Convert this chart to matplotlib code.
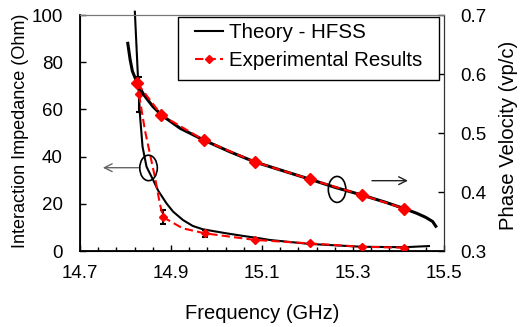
import matplotlib
matplotlib.use("Agg")
import matplotlib.pyplot as plt
from matplotlib.patches import Ellipse, Rectangle
from matplotlib.lines import Line2D

plt.rcParams['font.family'] = ['Liberation Sans', 'DejaVu Sans']

# teoria HFSS - impedancja (Ohm)
f_imp = [14.8205, 14.8278, 14.8315, 14.8374, 14.8462, 14.8607, 14.872, 14.89,
         14.9045, 14.9264, 14.948, 14.970, 15.0215, 15.058, 15.0945, 15.116,
         15.204, 15.318, 15.412, 15.467]
z_imp = [101.4, 71.7, 58.3, 44.2, 35.7, 30.1, 25.5, 20.2,
         16.7, 13.1, 10.6, 9.2, 7.5, 6.4, 5.4, 4.7,
         3.0, 1.8, 1.6, 2.1]

# teoria HFSS - predkosc fazowa (vp/c)
f_vp = [14.805, 14.81, 14.815, 14.826, 14.84, 14.86, 14.879, 14.92, 14.972,
        15.03, 15.084, 15.15, 15.206, 15.26, 15.319, 15.37, 15.412, 15.44,
        15.46, 15.475, 15.482]
vp = [0.652, 0.625, 0.605, 0.584, 0.565, 0.545, 0.5305, 0.508, 0.488,
      0.468, 0.451, 0.435, 0.4215, 0.408, 0.395, 0.383, 0.372, 0.364,
      0.357, 0.35, 0.342]

# pomiary - impedancja
f_exp_z = [14.8296, 14.8826, 14.974, 15.084, 15.206, 15.319, 15.412]
z_exp = [66.4, 14.3, 7.5, 4.7, 3.2, 1.8, 1.4]
z_err = [7.5, 2.9, 1.4, 0.0, 0.0, 0.0, 0.0]
# przebieg wygladzonej linii pomiarow
f_exp_line = [14.8296, 14.8425, 14.8534, 14.8644, 14.8753, 14.8826, 14.926,
              14.974, 15.084, 15.206, 15.319, 15.412]
z_exp_line = [66.4, 51.3, 41.4, 31.5, 20.2, 14.3, 9.6,
              7.5, 4.7, 3.2, 1.8, 1.4]

# pomiary - predkosc fazowa
f_exp_vp = [14.826, 14.879, 14.972, 15.084, 15.206, 15.319, 15.412]
vp_exp = [0.584, 0.5305, 0.488, 0.451, 0.4215, 0.395, 0.372]

fig = plt.figure(figsize=(5.21, 3.27), dpi=100)
ax = fig.add_axes([0.1536, 0.2324, 0.6986, 0.7217])
ax2 = ax.twinx()

ax.plot(f_imp, z_imp, color='black', lw=1.5, clip_on=False, zorder=2)
ax.errorbar(f_exp_z, z_exp, yerr=z_err, fmt='none', ecolor='black',
            elinewidth=1.5, capsize=2.5, capthick=1.5, zorder=3)
ax.plot(f_exp_line, z_exp_line, color='red', lw=1.5, dashes=(4, 2), zorder=4)
ax.plot(f_exp_z, z_exp, ls='none', marker='D', ms=4.5, mec='red',
        mfc='red', zorder=5)

ax2.plot(f_vp, vp, color='black', lw=2.2, clip_on=False, zorder=2)
ax2.plot(f_exp_vp, vp_exp, color='red', lw=1.5, dashes=(4, 2),
         marker='D', ms=6, mec='red', mfc='red', zorder=3)

ax.set_xlim(14.7, 15.5)
ax.set_ylim(0, 100)
ax2.set_ylim(0.3, 0.7)

ax.set_xticks([14.7, 14.9, 15.1, 15.3, 15.5])
ax.set_xticks([14.7 + 0.04 * i for i in range(21)], minor=True)
ax.set_yticks([0, 20, 40, 60, 80, 100])
ax2.set_yticks([0.3, 0.4, 0.5, 0.6, 0.7])

ax.tick_params(axis='x', which='major', direction='in', length=4.5, width=1,
               labelsize=13.5, pad=10)
ax.tick_params(axis='x', which='minor', direction='in', length=3.2, width=1)
ax.tick_params(axis='y', direction='in', length=4.3, width=1,
               labelsize=13.5, pad=12.5)
ax2.tick_params(axis='y', direction='in', length=4.3, width=1,
                labelsize=13.5, pad=12)

for s in ['left', 'bottom']:
    ax.spines[s].set_linewidth(1.3)
ax.spines['top'].set_color('#777777')
ax2.spines['top'].set_color('#777777')
ax2.spines['right'].set_color('#333333')

ax.set_xlabel('Frequency (GHz)', fontsize=14.5)
ax.xaxis.set_label_coords(0.5, -0.225)
ax.set_ylabel('Interaction Impedance (Ohm)', fontsize=13)
ax.yaxis.set_label_coords(-0.1415, 0.51)
ax2.set_ylabel('Phase Velocity (vp/c)', fontsize=14.6)
ax2.yaxis.set_label_coords(1.151, 0.489)

# elipsy i strzalki
ax.add_patch(Ellipse((14.8506, 35.2), 0.0385, 10.8, fill=False,
                     ec='black', lw=1.2, zorder=6))
ax.add_patch(Ellipse((15.265, 26.1), 0.0385, 11.0, fill=False,
                     ec='black', lw=1.2, zorder=6))
ax.annotate('', xy=(14.744, 35.3), xytext=(14.835, 35.3),
            arrowprops=dict(arrowstyle='->', color='#666666', lw=1,
                            mutation_scale=14))
ax.annotate('', xy=(15.427, 29.8), xytext=(15.3356, 29.8),
            arrowprops=dict(arrowstyle='->', color='#222222', lw=1,
                            mutation_scale=14))

# legenda z osobna ramka
ax2.add_patch(Rectangle((0.2692, 0.7246), 0.7171, 0.2682,
                        transform=ax2.transAxes, fill=True, fc='white',
                        ec='black', lw=1, zorder=7, clip_on=False))
handles = [Line2D([], [], color='black', lw=1.5),
           Line2D([], [], color='red', lw=1.5, dashes=(4, 2),
                  marker='D', ms=4)]
leg = ax2.legend(handles, ['Theory - HFSS', 'Experimental Results'],
                 loc='upper left', bbox_to_anchor=(0.3159, 0.966),
                 fontsize=14.8, frameon=False,
                 handlelength=1.36, handletextpad=0.29, borderpad=0,
                 labelspacing=0.45, borderaxespad=0)
leg.set_zorder(8)

fig.savefig('out.png', dpi=100)
